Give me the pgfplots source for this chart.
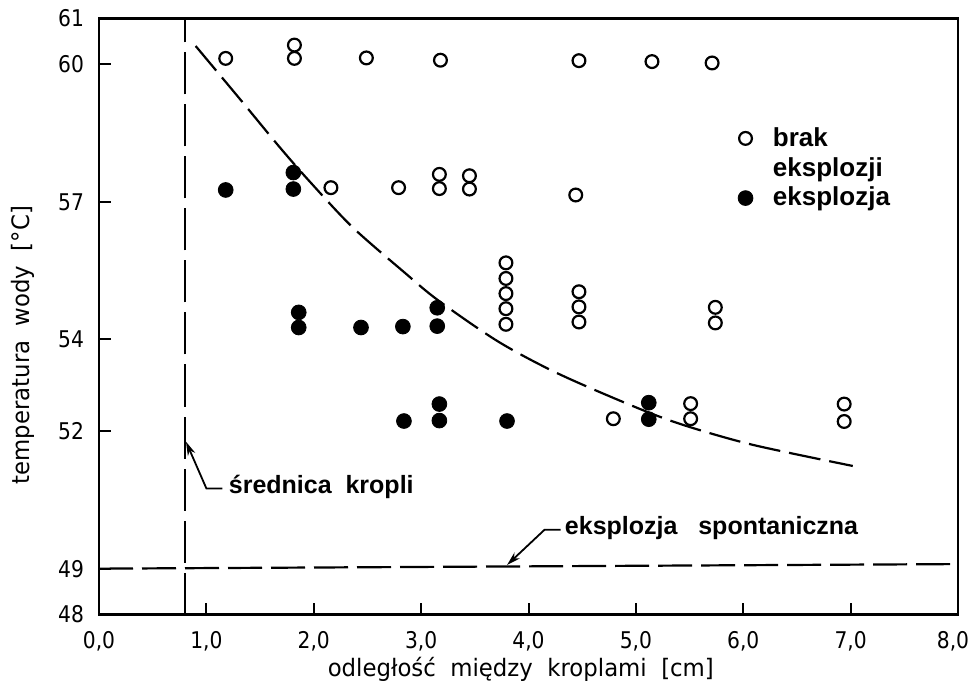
\documentclass[border=0pt]{standalone}
\usepackage{fontspec}
\setmainfont{DejaVu Sans}[FakeStretch=0.88]
\newfontfamily\lab{DejaVu Sans}[FakeStretch=0.95]
\newfontfamily\hv{Liberation Sans}
\usepackage{pgfplots}
\pgfplotsset{compat=1.18}
\usetikzlibrary{calc,arrows.meta}
\begin{document}
\begin{tikzpicture}
\begin{axis}[
  name=ax,
  scale only axis,
  width=429.5pt, height=298pt,
  xmin=0, xmax=8, ymin=48, ymax=61,
  axis line style={line width=1.2pt},
  tick align=inside,
  xtick pos=left, ytick pos=left,
  xtick={0,1,2,3,4,5,6,7,8},
  xticklabels={{0,0},{1,0},{2,0},{3,0},{4,0},{5,0},{6,0},{7,0},{\kern-5pt 8,0}},
  ytick={48,49,52,54,57,60,61},
  yticklabels={48,49,52,54,57,60,61},
  major tick length=6pt,
  tick style={line width=1pt, black},
  ticklabel style={font=\fontsize{11.5}{13}\selectfont},
  yticklabel style={xshift=-4pt},
  xticklabel style={yshift=-5pt},
  xlabel={odległość\ \ między\ \ kroplami\ \ [cm]},
  ylabel={temperatura\ \ wody\ \ [°C]},
  every axis x label/.style={at={(rel axis cs:0.491,0)}, yshift=-27.5pt, anchor=center, font=\lab\fontsize{12}{13}\selectfont},
  every axis y label/.style={at={(rel axis cs:0,0.452)}, xshift=-38pt, rotate=90, anchor=center, font=\lab\fontsize{12}{13}\selectfont},
  clip=false,
  legend style={draw=none, fill=none, at={(axis cs:6.11,58.37)}, anchor=north west, xshift=-13.5pt, yshift=8pt,
    font=\hv\bfseries\fontsize{13}{14}\selectfont, inner sep=0pt, column sep=8pt},
  legend cell align=left,
]
% curve
\addplot[forget plot, line width=1.1pt, dash pattern=on 16pt off 4.5pt, smooth] coordinates {
(0.90,60.40) (1.31,59.25) (1.68,58.20) (1.96,57.45) (2.36,56.45) (2.85,55.45) (3.16,54.85)
(3.72,53.95) (4.28,53.25) (5.02,52.50) (5.46,52.12) (6.09,51.70) (7.02,51.24)};
% droplet diameter
\addplot[forget plot, line width=1.1pt, dash pattern=on 21pt off 5pt] coordinates {(0.8,48) (0.8,61)};
% spontaneous explosion
\addplot[forget plot, line width=1.1pt, dash pattern=on 17pt off 4.5pt] coordinates {(0,49) (8,49.1)};

\addplot[only marks, mark=o, mark size=3.2pt, mark options={line width=1.1pt, black}] coordinates {
(1.18,60.13) (1.82,60.42) (1.82,60.13) (2.49,60.14) (3.18,60.09) (4.47,60.08) (5.15,60.06) (5.71,60.03)
(2.16,57.31) (2.79,57.31) (3.17,57.60) (3.17,57.29) (3.45,57.57) (3.45,57.28) (4.44,57.15)
(3.79,55.67) (3.79,55.33) (3.79,55.00) (3.79,54.67) (3.79,54.33)
(4.47,55.04) (4.47,54.71) (4.47,54.38)
(5.74,54.70) (5.74,54.36)
(4.79,52.27) (5.51,52.60) (5.51,52.27) (6.94,52.59) (6.94,52.21)};
\addlegendentry{brak}
\addlegendimage{legend image code/.code={}}
\addlegendentry{eksplozji}
\addplot[only marks, mark=*, mark size=3.7pt, black] coordinates {
(1.18,57.26) (1.81,57.64) (1.81,57.28)
(1.86,54.59) (1.86,54.26) (2.44,54.26) (2.83,54.28) (3.15,54.69) (3.15,54.29)
(2.84,52.22) (3.17,52.59) (3.17,52.23) (3.80,52.22) (5.12,52.62) (5.12,52.26)};
\addlegendentry{eksplozja}

\draw[line width=0.9pt, -{Stealth[length=7pt,width=4pt]}] (axis cs:1.15,50.75) -- (axis cs:1.0,50.75) -- (axis cs:0.81,51.77);
\node[anchor=west, font=\hv\bfseries\fontsize{12.5}{14}\selectfont, inner sep=3pt] at (axis cs:1.15,50.78) {średnica\ \ kropli};
\draw[line width=0.9pt, -{Stealth[length=7pt,width=4pt]}] (axis cs:4.30,49.85) -- (axis cs:4.15,49.85) -- (axis cs:3.80,49.08);
\node[anchor=west, font=\hv\bfseries\fontsize{12.5}{14}\selectfont, inner sep=3pt] at (axis cs:4.28,49.88) {eksplozja\ \ \ spontaniczna};
\end{axis}
\pgfresetboundingbox
\path[use as bounding box] ($(ax.south west)+(-49.5pt,-37.75pt)$) rectangle ($(ax.north east)+(6.5pt,9.25pt)$);
\end{tikzpicture}
\end{document}
